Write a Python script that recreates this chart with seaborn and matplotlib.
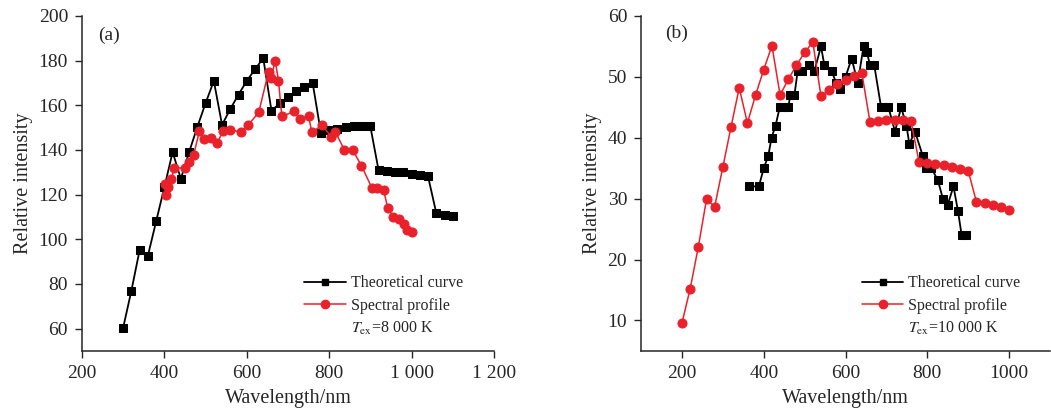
import matplotlib
matplotlib.use('Agg')
import matplotlib.pyplot as plt
from matplotlib.lines import Line2D
import seaborn as sns
import pandas as pd

# (a) Tex = 8000 K
a_theo_x = [300, 320, 340, 360, 380, 400, 420, 440, 460, 480, 500, 520, 540, 560, 580, 600,
            620, 640, 660, 680, 700, 720, 740, 760, 780, 800, 820, 840, 860, 880, 900, 920,
            940, 960, 980, 1000, 1020, 1040, 1060, 1080, 1100]
a_theo_y = [60.4, 77, 95.2, 92.6, 108, 123.3, 139, 127.1, 139, 150.3, 160.9, 170.9, 151.2,
            158.3, 164.8, 170.9, 176.1, 181.1, 157.5, 160.9, 163.6, 166.2, 168.1, 169.9,
            147.5, 148.7, 149.5, 150.1, 150.5, 150.5, 150.5, 130.8, 130.7, 130.3, 129.9,
            129.4, 128.9, 128.1, 111.7, 111, 110.3]
a_spec_x = [401, 405, 410, 417, 424, 449, 459, 471, 485, 495, 512, 528, 542, 560, 585, 603,
            629, 653, 659, 669, 677, 685, 715, 728, 750, 758, 783, 805, 815, 837, 857, 878,
            904, 916, 932, 942, 955, 969, 981, 988, 1001]
a_spec_y = [124.8, 120, 123.2, 126.8, 131.9, 131.9, 134.8, 137.8, 148.3, 144.8, 145.3, 143,
            148.3, 149, 148, 151, 156.8, 175.1, 172.1, 180, 171, 155, 157.2, 154, 155, 148,
            151, 146, 148, 140, 140, 133, 122.9, 122.9, 122.2, 114, 110, 109.2, 107, 104.2,
            103.2]

# (b) Tex = 10000 K
b_theo_x = [363, 388, 400, 411, 419, 429, 439, 450, 460, 465, 475, 483, 493, 511, 524, 540,
            548, 566, 577, 586, 600, 615, 630, 644, 652, 660, 670, 687, 696, 705, 721, 736,
            749, 756, 770, 789, 798, 810, 826, 838, 850, 864, 875, 884, 895]
b_theo_y = [32, 32, 35, 37, 40, 42, 45, 45, 45, 47, 47, 51, 51, 52, 51, 55, 52, 51, 49, 48,
            50, 53, 49, 55, 54, 52, 52, 45, 45, 45, 41, 45, 42, 39, 41, 37, 35, 35, 33, 30,
            29, 32, 28, 24, 24]
b_spec_x = [200, 220, 240, 260, 280, 300, 320, 340, 360, 380, 400, 420, 440, 460, 480, 500,
            520, 540, 560, 580, 600, 620, 640, 660, 680, 700, 720, 740, 760, 780, 800, 820,
            840, 860, 880, 900, 920, 940, 960, 980, 1000]
b_spec_y = [9.6, 15.2, 22.1, 29.9, 28.7, 35.2, 41.8, 48.2, 42.4, 47, 51.2, 55.1, 47, 49.6,
            51.9, 54, 55.7, 46.8, 47.9, 48.9, 49.5, 50.2, 50.6, 42.5, 42.7, 42.9, 42.9, 42.9,
            42.7, 36, 35.9, 35.7, 35.5, 35.2, 34.9, 34.6, 29.5, 29.2, 28.9, 28.6, 28.2]

sns.set_style('ticks')
plt.rcParams['font.family'] = ['Liberation Serif', 'DejaVu Serif']
plt.rcParams['mathtext.fontset'] = 'stix'

RED = '#e8212b'
fig = plt.figure(figsize=(10.51, 4.08), dpi=100)
ax1 = fig.add_axes([0.078, 0.140, 0.392, 0.821])
ax2 = fig.add_axes([0.610, 0.140, 0.389, 0.821])


def draw(ax, tx, ty, sx, sy, tlabel):
    sns.lineplot(x=tx, y=ty, ax=ax, color='black', marker='s', markersize=5.5,
                 markeredgecolor='black', linewidth=1.3)
    sns.lineplot(x=sx, y=sy, ax=ax, color=RED, marker='o', markersize=6.5,
                 markeredgecolor=RED, linewidth=1.1)
    hs = [Line2D([], [], color='black', marker='s', markersize=5, lw=1.3),
          Line2D([], [], color=RED, marker='o', markersize=6, lw=1.1),
          Line2D([], [], linestyle='none')]
    ax.legend(hs, ['Theoretical curve', 'Spectral profile', tlabel],
              loc='lower left', bbox_to_anchor=(0.505, -0.002), frameon=False,
              fontsize=11.5, handlelength=2.6, handletextpad=0.3, labelspacing=0.4)
    ax.set_xlabel('Wavelength/nm', fontsize=14.5, labelpad=5)
    ax.set_ylabel('Relative intensity', fontsize=14.5, labelpad=4)
    ax.tick_params(labelsize=14, length=5, width=1, direction='out', pad=5)
    for s in ['left', 'bottom']:
        ax.spines[s].set_linewidth(1.1)
    sns.despine(ax=ax)


draw(ax1, a_theo_x, a_theo_y, a_spec_x, a_spec_y, r'$T_{\mathrm{ex}}$=8 000 K')
ax1.set_xlim(200, 1200)
ax1.set_ylim(50, 200)
ax1.set_xticks([200, 400, 600, 800, 1000, 1200])
ax1.set_xticklabels(['200', '400', '600', '800', '1 000', '1 200'])
ax1.set_yticks([60, 80, 100, 120, 140, 160, 180, 200])
ax1.text(0.04, 0.943, '(a)', transform=ax1.transAxes, fontsize=14, va='center')

draw(ax2, b_theo_x, b_theo_y, b_spec_x, b_spec_y, r'$T_{\mathrm{ex}}$=10 000 K')
ax2.set_xlim(100, 1100)
ax2.set_ylim(5, 60)
ax2.set_xticks([200, 400, 600, 800, 1000])
ax2.set_yticks([10, 20, 30, 40, 50, 60])
ax2.text(0.059, 0.949, '(b)', transform=ax2.transAxes, fontsize=14, va='center')

fig.savefig('out.png', dpi=100)
